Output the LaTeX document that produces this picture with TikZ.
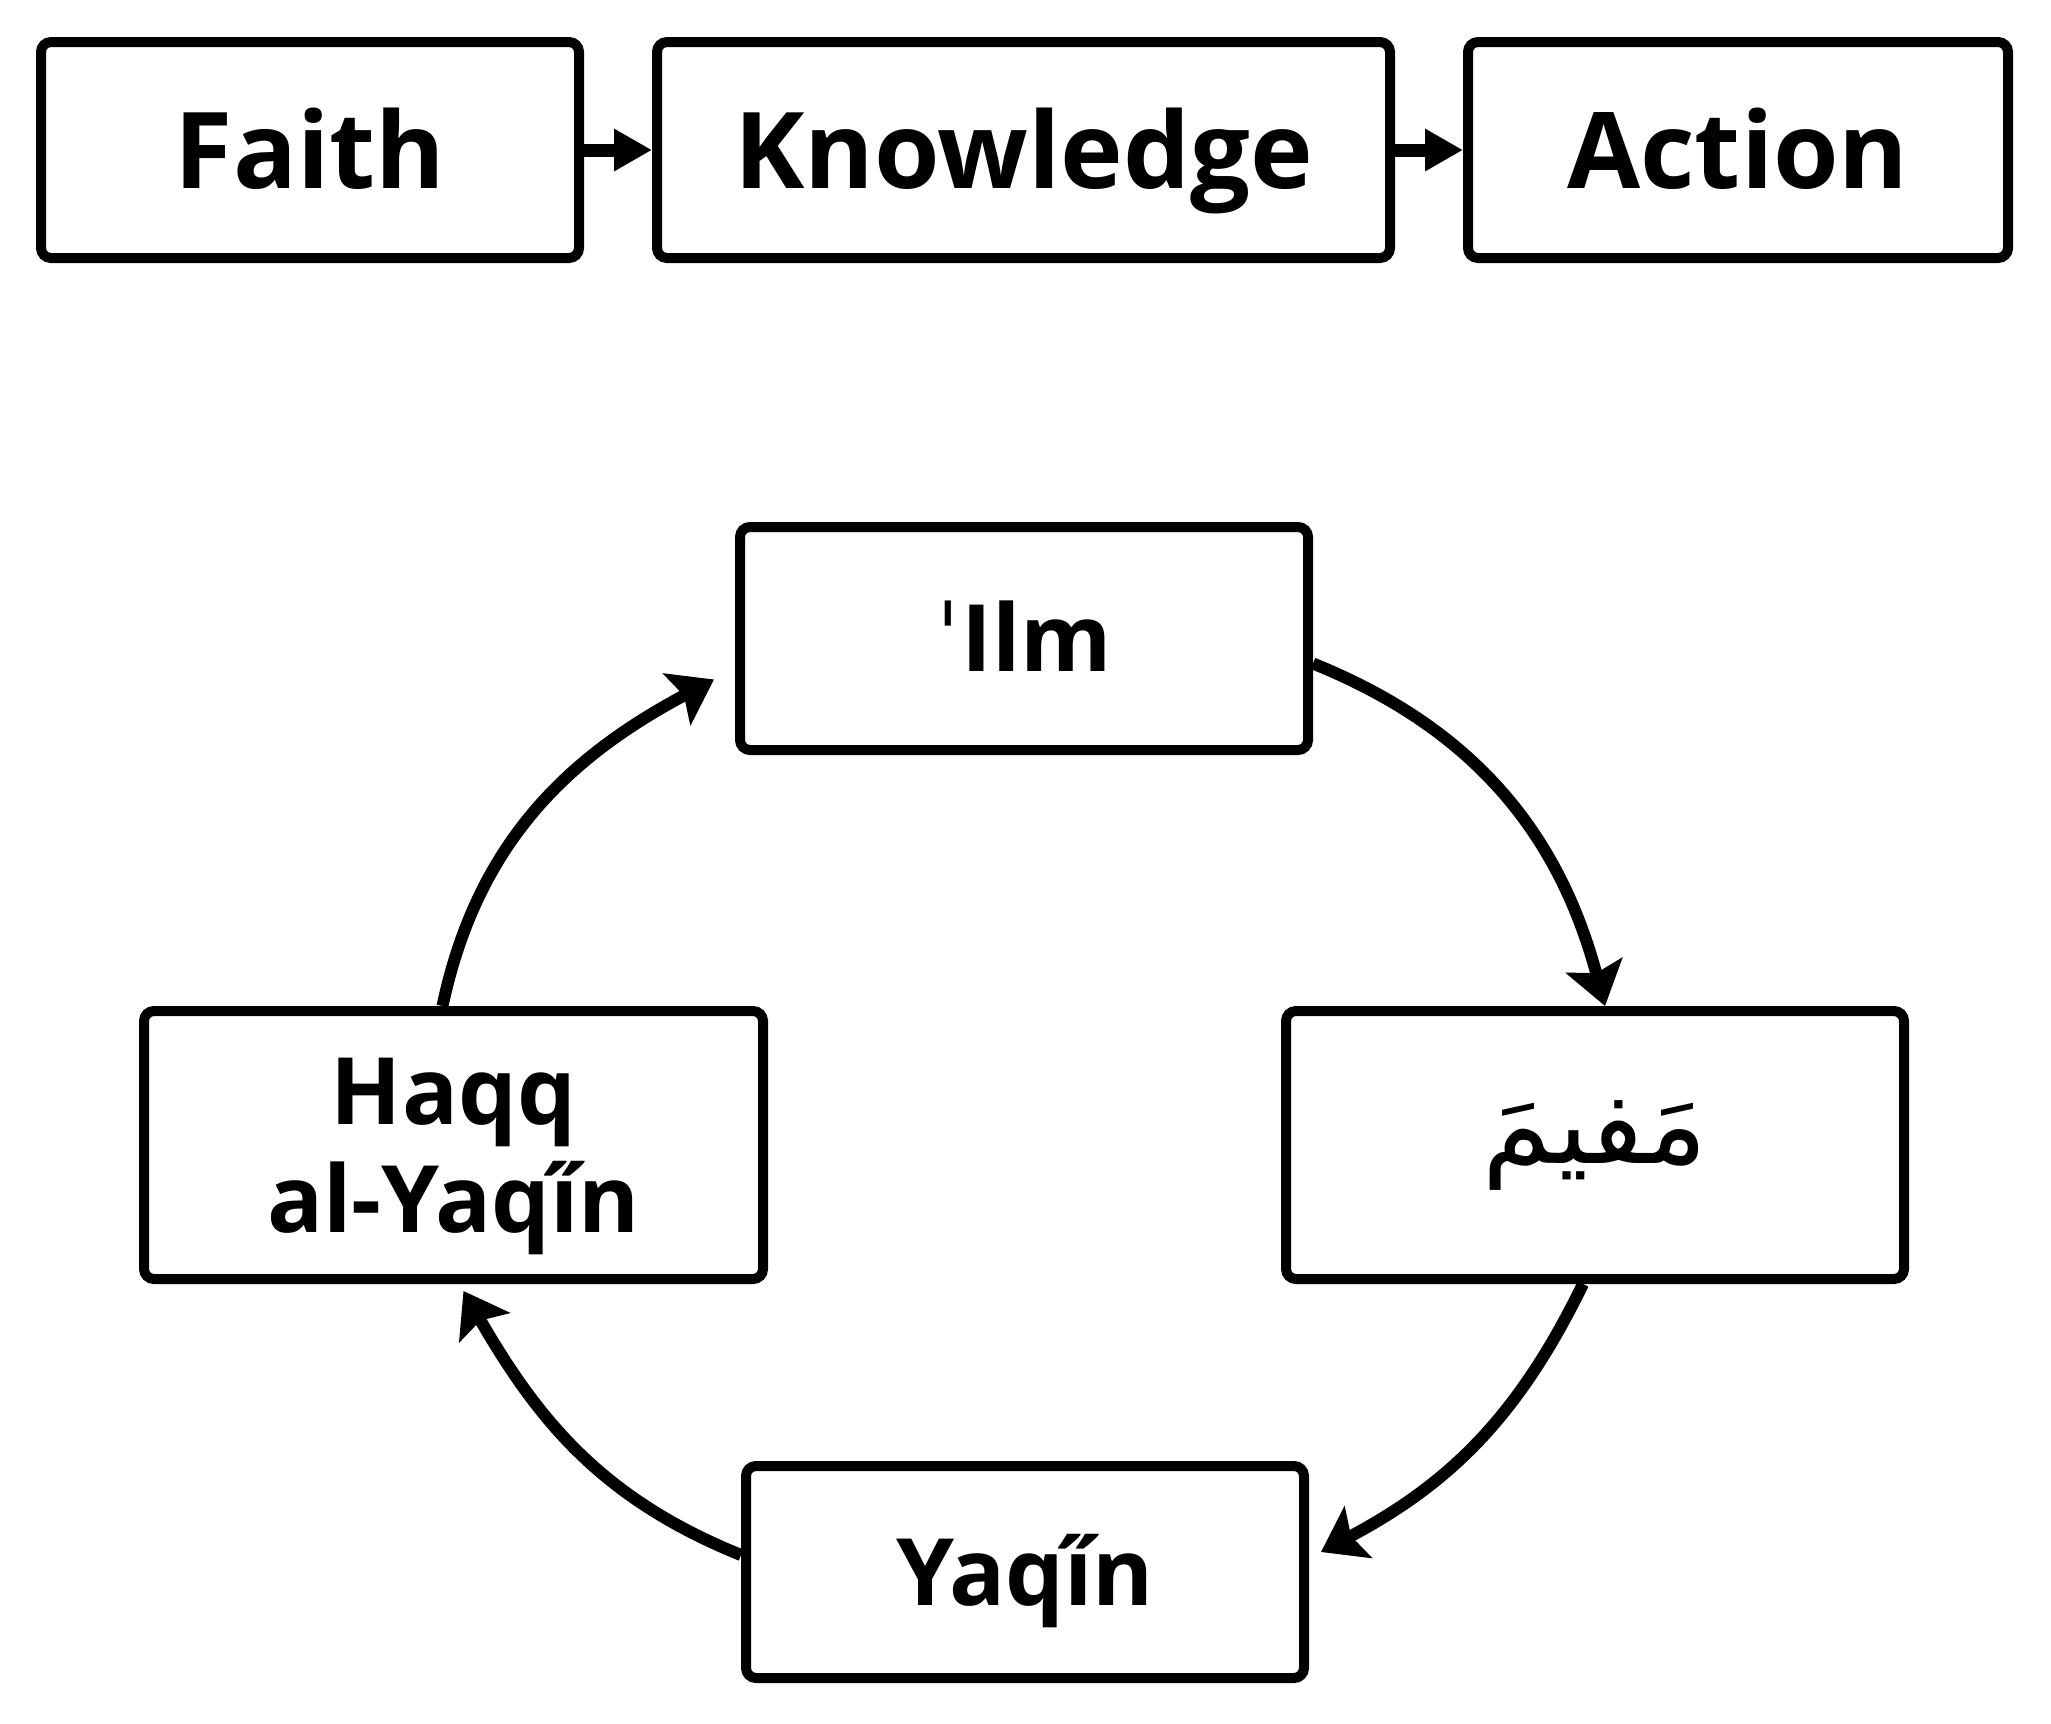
\documentclass[tikz,border=0pt]{standalone}
\usepackage{fontspec}
\setmainfont{Open Sans}
\newfontfamily\arabicfont[Script=Arabic]{DejaVu Sans}
\newfontfamily\dejavufam{DejaVu Sans}
\TeXXeTstate=1
\usetikzlibrary{arrows.meta}
\newcommand{\yqi}{\ooalign{ı\cr\hidewidth ˝\hidewidth\cr}}
\begin{document}
\begin{tikzpicture}[x=1pt,y=1pt,
  bx/.style={draw=black, line width=10pt, rounded corners=10pt, inner sep=0pt, fill=white},
  topfont/.style={font=\bfseries\fontsize{106}{127}\selectfont, text height=76pt, text depth=0pt},
  lowfont/.style={font=\bfseries\fontsize{93}{108}\selectfont, text height=66pt, text depth=0pt},
  flowarrow/.style={line width=13pt, -{Triangle[length=38pt,width=40pt]}},
  cyc/.style={line width=12pt, -{Stealth[length=42pt,width=58pt,inset=8pt]}}]
\useasboundingbox[fill=white] (0,0) rectangle (2051,-1724);
% top row
\node[bx, topfont, minimum width=538pt, minimum height=216pt] (faith) at (310,-150) {Faith};
\node[bx, topfont, minimum width=733pt, minimum height=216pt] (know) at (1023.5,-150) {Knowledge};
\node[bx, topfont, minimum width=540pt, minimum height=216pt] (act) at (1738,-150) {Action};
\draw[flowarrow] (faith.east) -- (know.west);
\draw[flowarrow] (know.east) -- (act.west);
% cycle
\node[bx, lowfont, minimum width=568pt, minimum height=223pt] (ilm) at (1024,-638.5) {{\dejavufam\mdseries ˈ}Ilm};
\node[bx, minimum width=618pt, minimum height=268pt, font=\arabicfont\fontsize{112}{130}\selectfont] (ar) at (1595,-1145) {\beginR مَفيمَ\endR};
\node[bx, lowfont, align=center, text height=174pt, minimum width=619pt, minimum height=268pt] (hq) at (453.5,-1145) {Haqq\\al-Yaq\yqi n};
\node[bx, lowfont, minimum width=558pt, minimum height=212pt] (yq) at (1025,-1572) {Yaq\yqi n};
\draw[cyc] ([yshift=-25pt]ilm.east) to[out=-22,in=105] ([xshift=10pt]ar.north);
\draw[cyc] ([xshift=-12pt]ar.south) to[out=-116,in=28] ([xshift=12pt,yshift=20pt]yq.east);
\draw[cyc] ([yshift=17pt]yq.west) to[out=158,in=-60] ([xshift=10pt,yshift=-7pt]hq.south);
\draw[cyc] ([xshift=-11pt]hq.north) to[out=78,in=-152] ([xshift=-21pt,yshift=-41pt]ilm.west);
\end{tikzpicture}
\end{document}
